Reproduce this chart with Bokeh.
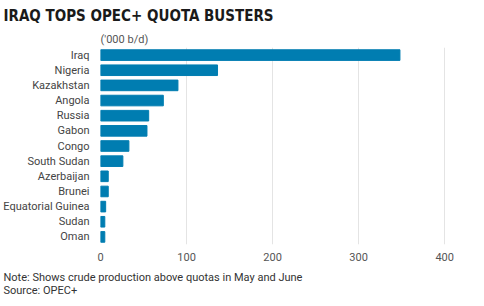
from bokeh.plotting import figure
from bokeh.models import Title, FixedTicker
from bokeh.embed import file_html
from bokeh.resources import INLINE

countries = ["Iraq", "Nigeria", "Kazakhstan", "Angola", "Russia", "Gabon", "Congo",
             "South Sudan", "Azerbaijan", "Brunei", "Equatorial Guinea", "Sudan", "Oman"]
values = [348, 136, 90, 73, 56, 54, 33, 26, 9, 9, 6, 5, 5]
x_ticks = [0, 100, 200, 300, 400]

FONT = "Roboto"
BAR = "#007db1"

p = figure(y_range=list(reversed(countries)), x_range=(0, 430),
           width=484, height=306, output_backend="svg", toolbar_location=None,
           min_border_left=97, min_border_right=14, min_border_top=0, min_border_bottom=0)

p.hbar(y=countries, right=values, left=0, height=0.7, color=BAR)

p.xaxis.ticker = FixedTicker(ticks=x_ticks)
p.xaxis.axis_line_color = None
p.xaxis.major_tick_line_color = None
p.xaxis.minor_tick_line_color = None
p.xaxis.major_label_text_font = FONT
p.xaxis.major_label_text_font_size = "11px"
p.xaxis.major_label_text_color = "#555555"
p.xaxis.major_label_standoff = 2

p.yaxis.axis_line_color = None
p.yaxis.major_tick_line_color = None
p.yaxis.minor_tick_line_color = None
p.yaxis.major_label_text_font = FONT
p.yaxis.major_label_text_font_size = "11px"
p.yaxis.major_label_text_color = "#444444"
p.yaxis.major_label_standoff = 5

p.xgrid.grid_line_color = "#e4e4e4"
p.ygrid.grid_line_color = None
p.outline_line_color = None

p.title.text = ""
p.title.visible = False

sub = Title(text="('000 b/d)", align="left", text_font=FONT, text_font_size="11px",
            text_font_style="normal", text_color="#555555", offset=0, standoff=3)
p.add_layout(sub, "above")
main = Title(text="IRAQ TOPS OPEC+ QUOTA BUSTERS", align="left", text_font="DejaVu Sans Condensed",
             text_font_size="15px", text_font_style="bold", text_color="#1a1a1a", offset=-97, standoff=9)
p.add_layout(main, "above")

note = Title(text="Note: Shows crude production above quotas in May and June\nSource: OPEC+",
             align="left", vertical_align="top", text_font=FONT, text_font_size="11px",
             text_font_style="normal", text_color="#333333", text_line_height=1.05,
             offset=-97, standoff=14)
p.add_layout(note, "below")

open("out.html", "w").write(file_html(p, INLINE))
